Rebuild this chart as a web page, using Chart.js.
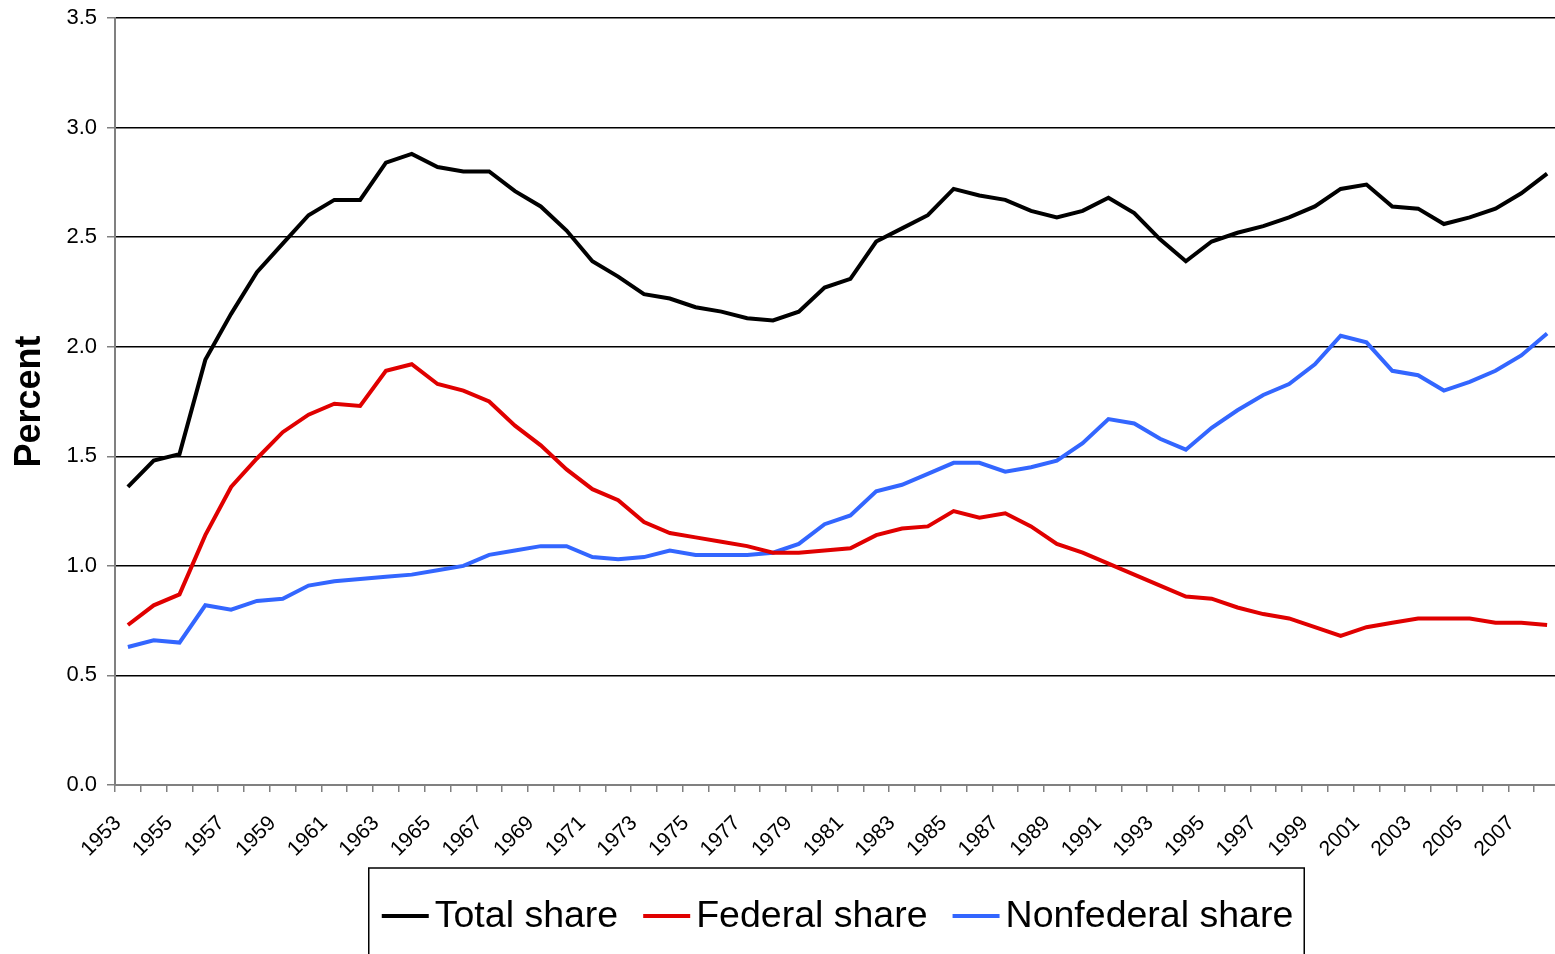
<!DOCTYPE html>
<html>
<head>
<meta charset="utf-8">
<script src="https://cdn.jsdelivr.net/npm/chart.js@4/dist/chart.umd.min.js"></script>
<style>
  html, body { margin: 0; padding: 0; background: #fff; overflow: hidden; }
  #wrap { width: 1560px; height: 954px; }
</style>
</head>
<body>
<div id="wrap"><canvas id="shareChart" width="1560" height="954"></canvas></div>
<script>
// years on the category axis
const years = [];
for (let y = 1953; y <= 2008; y++) years.push(String(y));

// percent
const totalShare = [1.36, 1.48, 1.51, 1.94, 2.15, 2.34, 2.47, 2.60, 2.67, 2.67,
  2.84, 2.88, 2.82, 2.80, 2.80, 2.71, 2.64, 2.53, 2.39, 2.32,
  2.24, 2.22, 2.18, 2.16, 2.13, 2.12, 2.16, 2.27, 2.31, 2.48,
  2.54, 2.60, 2.72, 2.69, 2.67, 2.62, 2.59, 2.62, 2.68, 2.61,
  2.49, 2.39, 2.48, 2.52, 2.55, 2.59, 2.64, 2.72, 2.74, 2.64,
  2.63, 2.56, 2.59, 2.63, 2.70, 2.79];

const federalShare = [0.73, 0.82, 0.87, 1.14, 1.36, 1.49, 1.61, 1.69, 1.74, 1.73,
  1.89, 1.92, 1.83, 1.80, 1.75, 1.64, 1.55, 1.44, 1.35, 1.30,
  1.20, 1.15, 1.13, 1.11, 1.09, 1.06, 1.06, 1.07, 1.08, 1.14,
  1.17, 1.18, 1.25, 1.22, 1.24, 1.18, 1.10, 1.06, 1.01, 0.96,
  0.91, 0.86, 0.85, 0.81, 0.78, 0.76, 0.72, 0.68, 0.72, 0.74,
  0.76, 0.76, 0.76, 0.74, 0.74, 0.73];

const nonfederalShare = [0.63, 0.66, 0.65, 0.82, 0.80, 0.84, 0.85, 0.91, 0.93, 0.94,
  0.95, 0.96, 0.98, 1.00, 1.05, 1.07, 1.09, 1.09, 1.04, 1.03,
  1.04, 1.07, 1.05, 1.05, 1.05, 1.06, 1.10, 1.19, 1.23, 1.34,
  1.37, 1.42, 1.47, 1.47, 1.43, 1.45, 1.48, 1.56, 1.67, 1.65,
  1.58, 1.53, 1.63, 1.71, 1.78, 1.83, 1.92, 2.05, 2.02, 1.89,
  1.87, 1.80, 1.84, 1.89, 1.96, 2.06];

const FONT = '"Liberation Sans", Arial, sans-serif';
const AXIS_GREY = '#808080';

// Excel style boxed legend under the axis
const boxedLegend = {
  id: 'boxedLegend',
  afterDraw(chart) {
    const { ctx, chartArea } = chart;
    const lineLen = 47, gap = 6, spacing = 25;
    ctx.save();
    ctx.font = '37.5px ' + FONT;
    const items = chart.data.datasets.map(ds => ({
      label: ds.label,
      color: ds.borderColor,
      w: ctx.measureText(ds.label).width
    }));
    const total = items.reduce((s, it) => s + lineLen + gap + it.w, 0) + spacing * (items.length - 1);
    let x = (chartArea.left + chartArea.right) / 2 - total / 2;
    const top = chartArea.bottom + 83;
    const midY = top + 48;

    ctx.strokeStyle = '#000';
    ctx.lineWidth = 1.5;
    ctx.strokeRect(x - 13, top, total + 24, 120);

    ctx.textBaseline = 'middle';
    ctx.fillStyle = '#000';
    items.forEach(it => {
      ctx.strokeStyle = it.color;
      ctx.lineWidth = 4;
      ctx.beginPath();
      ctx.moveTo(x, midY);
      ctx.lineTo(x + lineLen, midY);
      ctx.stroke();
      ctx.fillText(it.label, x + lineLen + gap, midY + 1);
      x += lineLen + gap + it.w + spacing;
    });
    ctx.restore();
  }
};

// keep the plot box fixed: no extra room for overhanging labels
function noLabelPadding(scale) {
  scale.paddingLeft = 0;
  scale.paddingRight = 0;
  scale.paddingTop = 0;
  scale.paddingBottom = 0;
}

const ctx = document.getElementById('shareChart').getContext('2d');
const shareChart = new Chart(ctx, {
  type: 'line',
  data: {
    labels: years,
    datasets: [{
      label: 'Total share',
      data: totalShare,
      borderColor: '#000000',
      borderWidth: 4,
      pointRadius: 0,
      tension: 0,
      fill: false
    }, {
      label: 'Federal share',
      data: federalShare,
      borderColor: '#E00000',
      borderWidth: 4,
      pointRadius: 0,
      tension: 0,
      fill: false
    }, {
      label: 'Nonfederal share',
      data: nonfederalShare,
      borderColor: '#3366FF',
      borderWidth: 4,
      pointRadius: 0,
      tension: 0,
      fill: false
    }]
  },
  options: {
    responsive: false,
    animation: false,
    layout: {
      padding: { top: 18, bottom: 94, left: 0, right: 0 }
    },
    scales: {
      x: {
        offset: true,
        afterFit(scale) { scale.height = 75; noLabelPadding(scale); },
        grid: {
          offset: true,
          drawOnChartArea: false,
          drawTicks: true,
          tickLength: 7,
          color: AXIS_GREY,
          lineWidth: 1.5
        },
        border: { color: AXIS_GREY, width: 2 },
        ticks: {
          autoSkip: false,
          minRotation: 45,
          maxRotation: 45,
          color: '#000',
          padding: 19,
          labelOffset: -10,
          font: { family: FONT, size: 21 },
          callback(value, index) {
            return index % 2 === 0 ? this.getLabelForValue(value) : '';
          }
        }
      },
      y: {
        min: 0,
        max: 3.5,
        afterFit(scale) { scale.width = 115; noLabelPadding(scale); },
        grid: {
          color: '#000',
          lineWidth: 1.5,
          tickLength: 8,
          tickColor: AXIS_GREY
        },
        border: { color: AXIS_GREY, width: 2 },
        ticks: {
          stepSize: 0.5,
          color: '#000',
          padding: 10,
          font: { family: FONT, size: 22 },
          callback: v => v.toFixed(1)
        },
        title: {
          display: true,
          text: 'Percent',
          color: '#000',
          padding: { top: 8, bottom: 0 },
          font: { family: FONT, size: 36, weight: 'bold' }
        }
      }
    },
    plugins: {
      legend: { display: false },
      tooltip: { enabled: false }
    }
  },
  plugins: [boxedLegend]
});
</script>
</body>
</html>
